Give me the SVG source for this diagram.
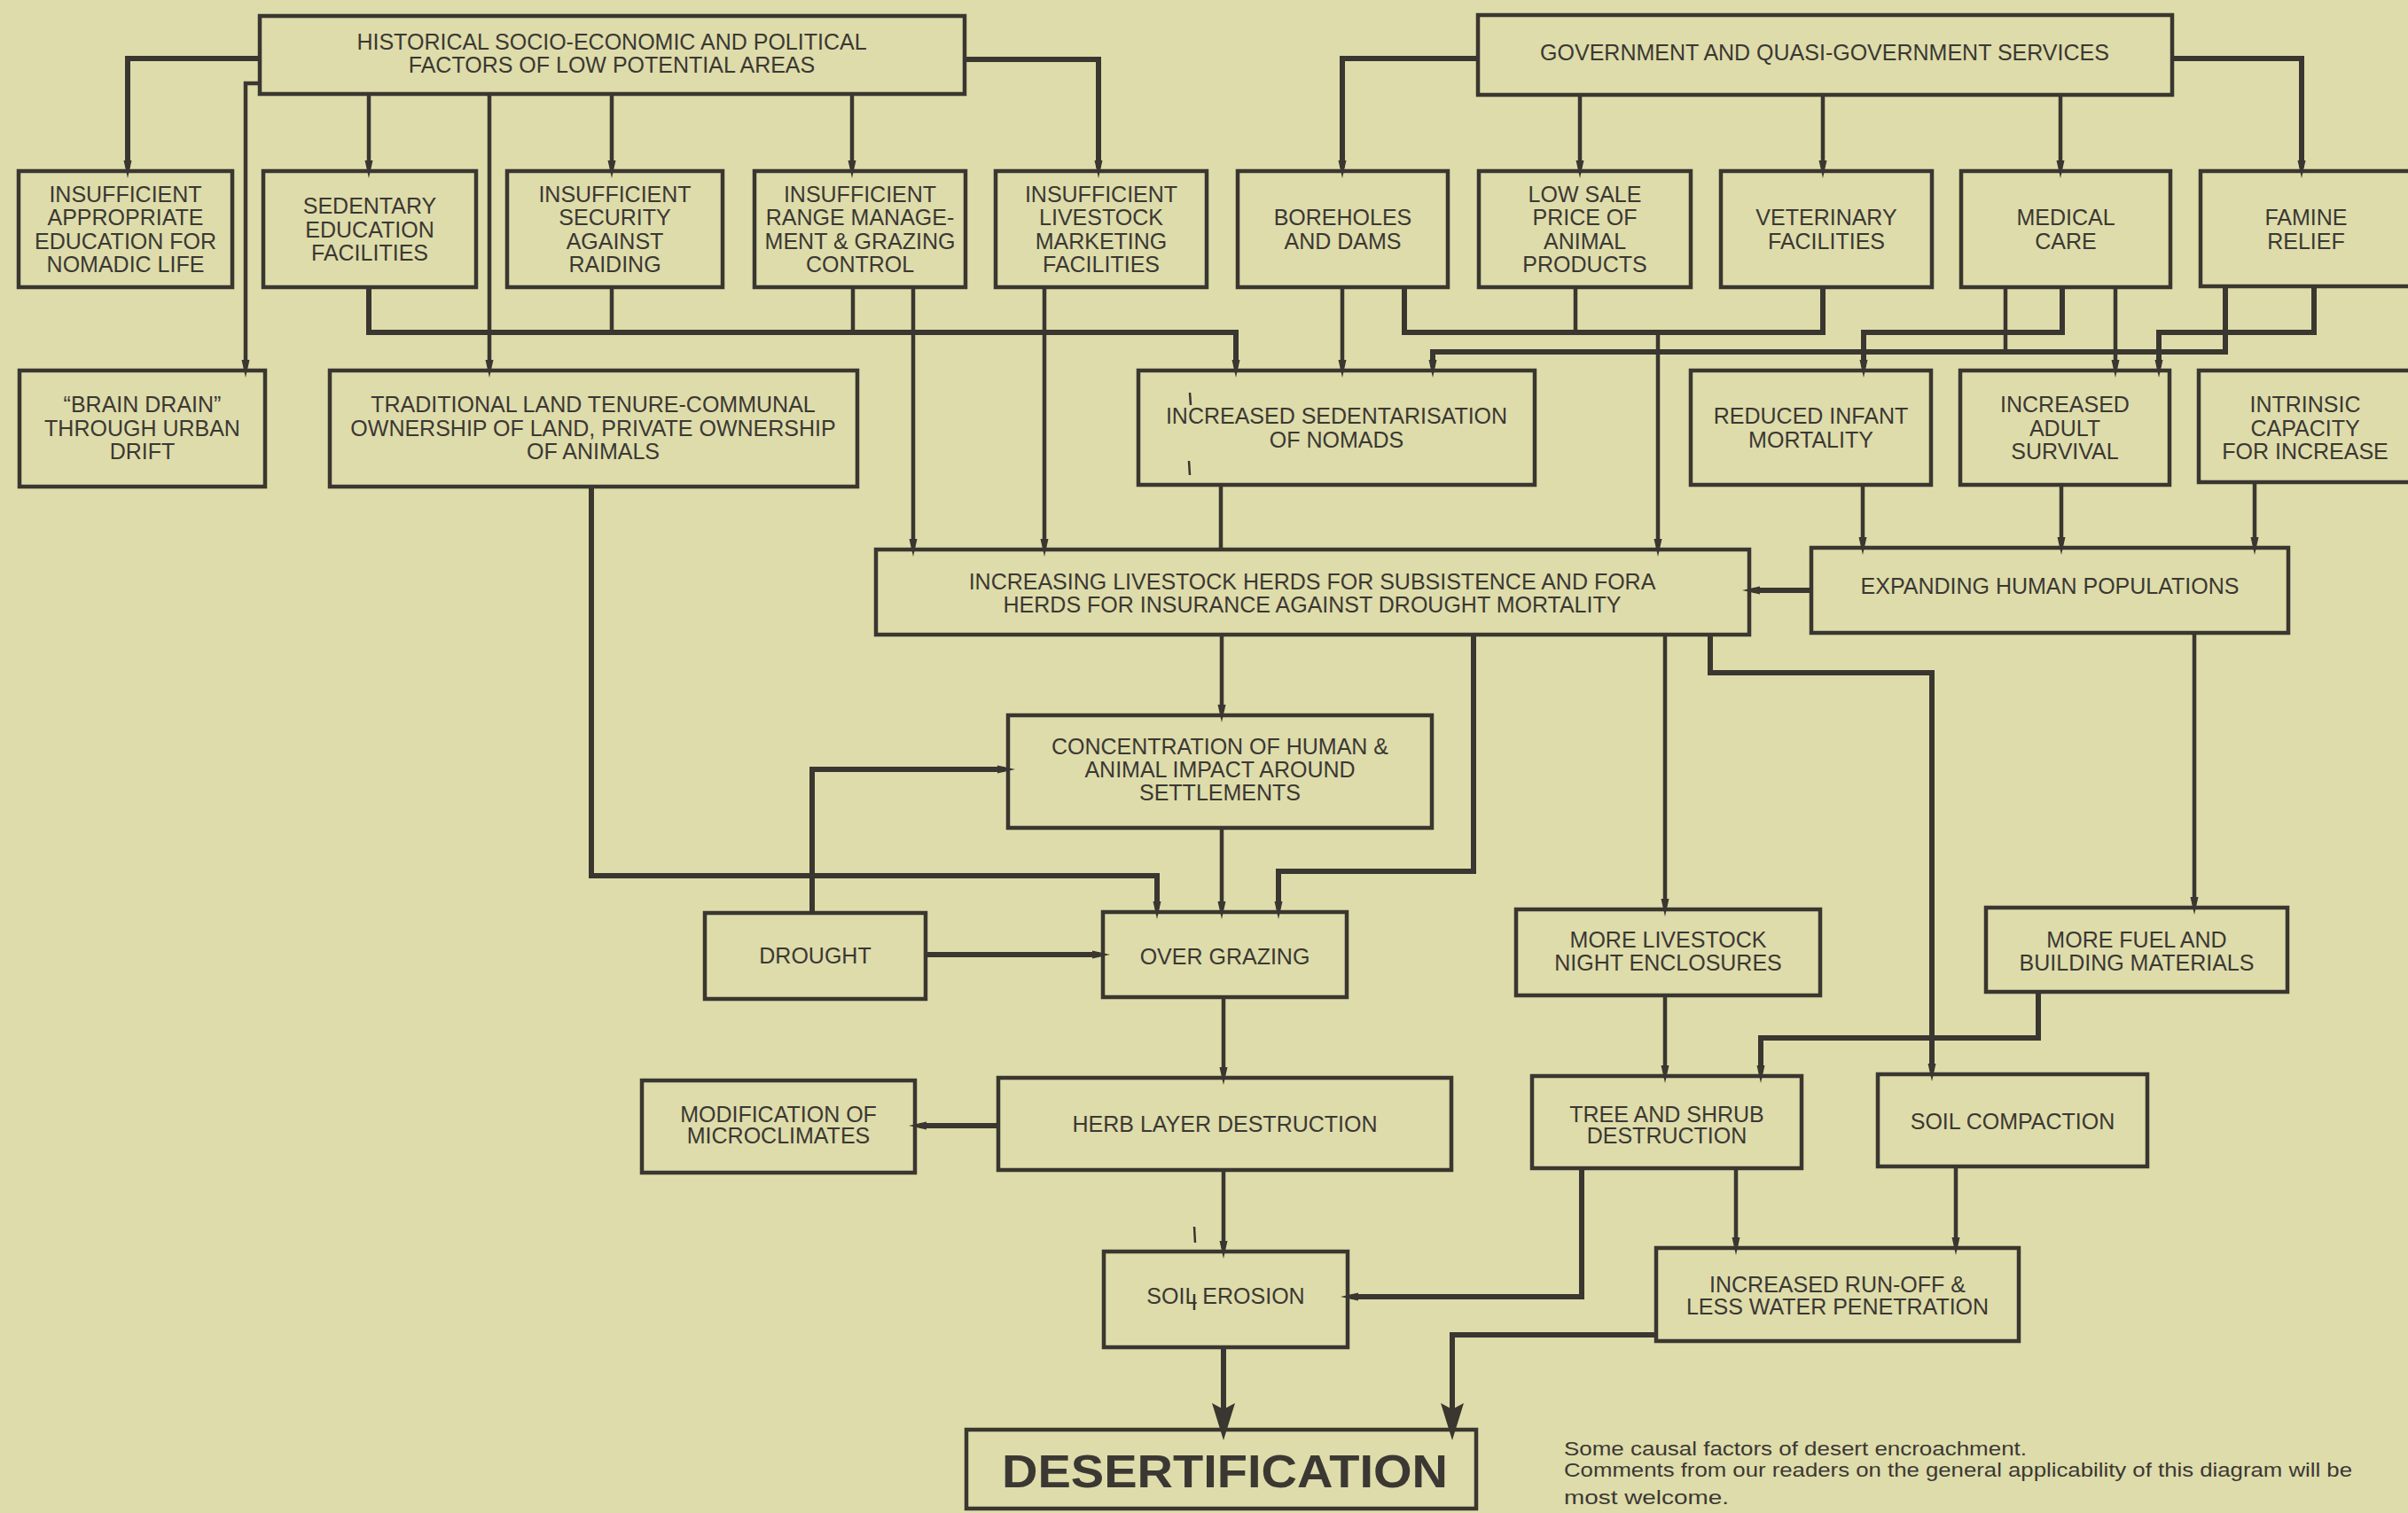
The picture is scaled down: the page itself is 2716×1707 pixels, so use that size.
<svg xmlns="http://www.w3.org/2000/svg" width="2716" height="1707" viewBox="0 0 2716 1707">
<style>
.bx{fill:#dedcaa;stroke:#3a3630;stroke-width:4.5}
.t{font-family:"Liberation Sans",Arial,sans-serif;font-size:25px;fill:#3b3833;text-anchor:middle}
.big{font-family:"Liberation Sans",Arial,sans-serif;font-size:52px;font-weight:bold;fill:#3b3833;text-anchor:middle}
.cap{font-family:"Liberation Sans",Arial,sans-serif;font-size:22px;fill:#3b3833}
.c{fill:none;stroke:#3a3630;stroke-width:4.5}
.k{fill:none;stroke:#3a3630;stroke-width:6}
.ar{marker-end:url(#a)}
.AR{marker-end:url(#A)}
.m{fill:none;stroke:#3a3630;stroke-width:2.5}
</style>
<defs>
<marker id="a" viewBox="0 0 20 10" refX="8" refY="5" markerWidth="20" markerHeight="10" markerUnits="userSpaceOnUse" orient="auto"><path d="M0,0.5 L20,5 L0,9.5 Z" fill="#3a3630"/></marker>
<marker id="A" viewBox="0 0 42 26" refX="14" refY="13" markerWidth="42" markerHeight="26" markerUnits="userSpaceOnUse" orient="auto"><path d="M0,0 L42,13 L0,26 L7,13 Z" fill="#3a3630"/></marker>
</defs>
<rect width="2716" height="1707" fill="#dedcaa"/>
<g id="nodes">
<g id="hist"><rect class="bx" x="293" y="18" width="795" height="88"/><text class="t" x="690" y="55.5">HISTORICAL SOCIO-ECONOMIC AND POLITICAL</text><text class="t" x="690" y="82">FACTORS OF LOW POTENTIAL AREAS</text></g>
<g id="gov"><rect class="bx" x="1667" y="17" width="783" height="90"/><text class="t" x="2058" y="68">GOVERNMENT AND QUASI-GOVERNMENT SERVICES</text></g>
<g id="edu"><rect class="bx" x="21" y="193" width="241" height="131"/><text class="t" x="141.5" y="228">INSUFFICIENT</text><text class="t" x="141.5" y="254">APPROPRIATE</text><text class="t" x="141.5" y="281">EDUCATION FOR</text><text class="t" x="141.5" y="307">NOMADIC LIFE</text></g>
<g id="sed_edu"><rect class="bx" x="297" y="193" width="240" height="131"/><text class="t" x="417" y="241">SEDENTARY</text><text class="t" x="417" y="267.5">EDUCATION</text><text class="t" x="417" y="294">FACILITIES</text></g>
<g id="security"><rect class="bx" x="572" y="193" width="243" height="131"/><text class="t" x="693.5" y="228">INSUFFICIENT</text><text class="t" x="693.5" y="254">SECURITY</text><text class="t" x="693.5" y="281">AGAINST</text><text class="t" x="693.5" y="307">RAIDING</text></g>
<g id="range"><rect class="bx" x="851" y="193" width="238" height="131"/><text class="t" x="970" y="228">INSUFFICIENT</text><text class="t" x="970" y="254">RANGE MANAGE-</text><text class="t" x="970" y="281">MENT &amp; GRAZING</text><text class="t" x="970" y="307">CONTROL</text></g>
<g id="marketing"><rect class="bx" x="1123" y="193" width="238" height="131"/><text class="t" x="1242" y="228">INSUFFICIENT</text><text class="t" x="1242" y="254">LIVESTOCK</text><text class="t" x="1242" y="281">MARKETING</text><text class="t" x="1242" y="307">FACILITIES</text></g>
<g id="boreholes"><rect class="bx" x="1396" y="193" width="237" height="131"/><text class="t" x="1514.5" y="254">BOREHOLES</text><text class="t" x="1514.5" y="281">AND DAMS</text></g>
<g id="lowsale"><rect class="bx" x="1668" y="193" width="239" height="131"/><text class="t" x="1787.5" y="228">LOW SALE</text><text class="t" x="1787.5" y="254">PRICE OF</text><text class="t" x="1787.5" y="281">ANIMAL</text><text class="t" x="1787.5" y="307">PRODUCTS</text></g>
<g id="vet"><rect class="bx" x="1941" y="193" width="238" height="131"/><text class="t" x="2060" y="254">VETERINARY</text><text class="t" x="2060" y="281">FACILITIES</text></g>
<g id="medical"><rect class="bx" x="2212" y="193" width="236" height="131"/><text class="t" x="2330" y="254">MEDICAL</text><text class="t" x="2330" y="281">CARE</text></g>
<g id="famine"><rect class="bx" x="2482" y="193" width="238" height="130"/><text class="t" x="2601" y="254">FAMINE</text><text class="t" x="2601" y="281">RELIEF</text></g>
<g id="brain"><rect class="bx" x="22" y="418" width="277" height="131"/><text class="t" x="160.5" y="465">“BRAIN DRAIN”</text><text class="t" x="160.5" y="491.5">THROUGH URBAN</text><text class="t" x="160.5" y="518">DRIFT</text></g>
<g id="tenure"><rect class="bx" x="372" y="418" width="595" height="131"/><text class="t" x="669" y="465">TRADITIONAL LAND TENURE-COMMUNAL</text><text class="t" x="669" y="491.5">OWNERSHIP OF LAND, PRIVATE OWNERSHIP</text><text class="t" x="669" y="518">OF ANIMALS</text></g>
<g id="sedent"><rect class="bx" x="1284" y="418" width="447" height="129"/><text class="t" x="1507.5" y="478">INCREASED SEDENTARISATION</text><text class="t" x="1507.5" y="505">OF NOMADS</text></g>
<g id="infant"><rect class="bx" x="1907" y="418" width="271" height="129"/><text class="t" x="2042.5" y="478">REDUCED INFANT</text><text class="t" x="2042.5" y="505">MORTALITY</text></g>
<g id="adult"><rect class="bx" x="2211" y="418" width="236" height="129"/><text class="t" x="2329" y="465">INCREASED</text><text class="t" x="2329" y="491.5">ADULT</text><text class="t" x="2329" y="518">SURVIVAL</text></g>
<g id="intrinsic"><rect class="bx" x="2480" y="418" width="240" height="126"/><text class="t" x="2600" y="465">INTRINSIC</text><text class="t" x="2600" y="491.5">CAPACITY</text><text class="t" x="2600" y="518">FOR INCREASE</text></g>
<g id="herds"><rect class="bx" x="988" y="620" width="985" height="96"/><text class="t" x="1480" y="665">INCREASING LIVESTOCK HERDS FOR SUBSISTENCE AND FORA</text><text class="t" x="1480" y="691">HERDS FOR INSURANCE AGAINST DROUGHT MORTALITY</text></g>
<g id="expand"><rect class="bx" x="2043" y="618" width="538" height="96"/><text class="t" x="2312" y="670">EXPANDING HUMAN POPULATIONS</text></g>
<g id="concen"><rect class="bx" x="1137" y="807" width="478" height="127"/><text class="t" x="1376" y="851">CONCENTRATION OF HUMAN &amp;</text><text class="t" x="1376" y="877">ANIMAL IMPACT AROUND</text><text class="t" x="1376" y="903">SETTLEMENTS</text></g>
<g id="drought"><rect class="bx" x="795" y="1030" width="249" height="97"/><text class="t" x="919.5" y="1086.5">DROUGHT</text></g>
<g id="overgraz"><rect class="bx" x="1244" y="1029" width="275" height="96"/><text class="t" x="1381.5" y="1088">OVER GRAZING</text></g>
<g id="enclos"><rect class="bx" x="1710" y="1026" width="343" height="97"/><text class="t" x="1881.5" y="1068.5">MORE LIVESTOCK</text><text class="t" x="1881.5" y="1094.5">NIGHT ENCLOSURES</text></g>
<g id="fuel"><rect class="bx" x="2240" y="1024" width="340" height="95"/><text class="t" x="2410" y="1068.5">MORE FUEL AND</text><text class="t" x="2410" y="1094.5">BUILDING MATERIALS</text></g>
<g id="micro"><rect class="bx" x="724" y="1219" width="308" height="104"/><text class="t" x="878" y="1266">MODIFICATION OF</text><text class="t" x="878" y="1290">MICROCLIMATES</text></g>
<g id="herb"><rect class="bx" x="1126" y="1216" width="511" height="104"/><text class="t" x="1381.5" y="1277">HERB LAYER DESTRUCTION</text></g>
<g id="tree"><rect class="bx" x="1728" y="1214" width="304" height="104"/><text class="t" x="1880" y="1266">TREE AND SHRUB</text><text class="t" x="1880" y="1290">DESTRUCTION</text></g>
<g id="compact"><rect class="bx" x="2118" y="1212" width="304" height="104"/><text class="t" x="2270" y="1273.5">SOIL COMPACTION</text></g>
<g id="erosion"><rect class="bx" x="1245" y="1412" width="275" height="108"/><text class="t" x="1382.5" y="1471">SOIL EROSION</text></g>
<g id="runoff"><rect class="bx" x="1868" y="1408" width="409" height="105"/><text class="t" x="2072.5" y="1457.5">INCREASED RUN-OFF &amp;</text><text class="t" x="2072.5" y="1482.5">LESS WATER PENETRATION</text></g>
<g id="desert"><rect class="bx" x="1090" y="1613" width="575" height="89"/><text class="big" x="1381.5" y="1678" textLength="503" lengthAdjust="spacingAndGlyphs">DESERTIFICATION</text></g>
</g>
<g id="connectors">
<path class="k ar" d="M293,66 H144 V189"/>
<path class="c ar" d="M293,94 H277 V414"/>
<path class="c ar" d="M416,106 V189"/>
<path class="c ar" d="M552,106 V414"/>
<path class="c ar" d="M690,106 V189"/>
<path class="c ar" d="M961,106 V189"/>
<path class="k ar" d="M1088,67 H1239 V189"/>
<path class="k ar" d="M1667,66 H1514 V189"/>
<path class="c ar" d="M1782,107 V189"/>
<path class="c ar" d="M2056,107 V189"/>
<path class="c ar" d="M2324,107 V189"/>
<path class="k ar" d="M2450,66 H2596 V189"/>
<path class="k ar" d="M416,324 V375 H1394 V414"/>
<path class="c" d="M690,324 V375 M962,324 V375"/>
<path class="c ar" d="M1030,324 V616"/>
<path class="c ar" d="M1178,324 V616"/>
<path class="c ar" d="M1514,324 V414"/>
<path class="k" d="M1584,324 V375 H2056 V324"/>
<path class="c" d="M1777,324 V375"/>
<path class="c ar" d="M1870,375 V616"/>
<path class="k ar" d="M2510,324 V397 H1616 V414"/>
<path class="c" d="M2262,324 V397"/>
<path class="k ar" d="M2326,324 V375 H2102 V414"/>
<path class="c ar" d="M2386,324 V414"/>
<path class="k ar" d="M2610,324 V375 H2435 V414"/>
<path class="c" d="M1377,547 V620"/>
<path class="c ar" d="M2101,547 V614"/>
<path class="c ar" d="M2325,547 V614"/>
<path class="c ar" d="M2543,544 V614"/>
<path class="k ar" d="M2043,666 H1977"/>
<path class="k ar" d="M667,549 V988 H1305 V1025"/>
<path class="c ar" d="M1378,716 V803"/>
<path class="c ar" d="M1378,934 V1025"/>
<path class="k ar" d="M1662,716 V983 H1442 V1025"/>
<path class="k ar" d="M916,1030 V868 H1133"/>
<path class="k ar" d="M1044,1077 H1240"/>
<path class="c ar" d="M1878,716 V1022"/>
<path class="k ar" d="M1929,716 V759 H2179 V1208"/>
<path class="c ar" d="M2475,714 V1020"/>
<path class="c ar" d="M1380,1125 V1212"/>
<path class="k ar" d="M1126,1270 H1037"/>
<path class="c ar" d="M1380,1320 V1408"/>
<path class="c ar" d="M1878,1123 V1210"/>
<path class="k ar" d="M2299,1119 V1171 H1986 V1210"/>
<path class="k ar" d="M1784,1318 V1463 H1524"/>
<path class="c ar" d="M1958,1318 V1404"/>
<path class="c ar" d="M2206,1316 V1404"/>
<path class="k AR" d="M1380,1520 V1597"/>
<path class="k AR" d="M1868,1506 H1638 V1597"/>
</g>
<g id="marks">
<path class="m" d="M1342,443 L1343,457"/>
<path class="m" d="M1341,520 L1342,536"/>
<path class="m" d="M1347,1384 L1348,1402"/>
<path class="m" d="M1347,1460 L1347,1478"/>
</g>
<g id="caption">
<text class="cap" x="1764" y="1642" textLength="522" lengthAdjust="spacingAndGlyphs">Some causal factors of desert encroachment.</text>
<text class="cap" x="1764" y="1666" textLength="889" lengthAdjust="spacingAndGlyphs">Comments from our readers on the general applicability of this diagram will be</text>
<text class="cap" x="1764" y="1697" textLength="186" lengthAdjust="spacingAndGlyphs">most  welcome.</text>
</g>
</svg>
